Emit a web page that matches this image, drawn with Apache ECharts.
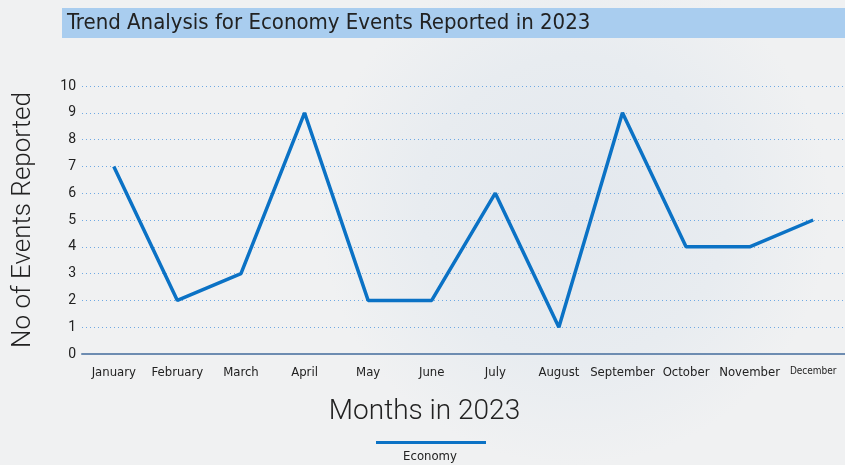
<!DOCTYPE html>
<html>
<head>
<meta charset="utf-8">
<script src="https://cdn.jsdelivr.net/npm/echarts@6/dist/echarts.min.js"></script>
<style>
html,body{margin:0;padding:0;background:#eff1f3;}
#chart{width:845px;height:465px;}
</style>
</head>
<body>
<div id="chart"></div>
<script>
var months = ['January','February','March','April','May','June','July','August','September','October','November','December'];
var economy = [7,2,3,9,2,2,6,1,9,4,4,5];
var yTicks = [0,1,2,3,4,5,6,7,8,9,10];
var seriesName = 'Economy';

var chart = echarts.init(document.getElementById('chart'));
var narrow = '"Liberation Sans Narrow","DejaVu Sans Condensed",Roboto,sans-serif';
chart.setOption({
  backgroundColor: {
    type: 'radial', x: 0.68, y: 0.45, r: 0.55,
    colorStops: [
      {offset: 0, color: '#e3e8ee'},
      {offset: 0.6, color: '#e8ecf0'},
      {offset: 1, color: '#f0f1f2'}
    ]
  },
  animation: false,
  title: {
    text: 'Trend Analysis for Economy Events Reported in 2023',
    left: 62, top: 8,
    backgroundColor: '#a9cdef',
    padding: [3, 5, 3, 5],
    textStyle: {fontFamily: narrow, fontSize: 22, fontWeight: 'normal', color: '#222', width: 773, lineHeight: 24}
  },
  grid: {left: 82, right: 0, top: 86, bottom: 111, containLabel: false, outerBoundsMode: 'none'},
  xAxis: {
    type: 'category',
    data: months,
    boundaryGap: true,
    name: 'Months in 2023',
    nameLocation: 'middle',
    nameGap: 44,
    nameTextStyle: {fontFamily: 'Roboto', fontWeight: 300, fontSize: 28, color: '#222', padding: [0, 78, 0, 0]},
    axisLine: {lineStyle: {color: '#6d8cb1', width: 2}},
    axisTick: {show: false},
    axisLabel: {
      interval: 0, margin: 12,
      fontFamily: narrow, fontSize: 13, color: '#222',
      formatter: function (v) { return v === 'December' ? '{s|' + v + '}' : v; },
      rich: {s: {fontFamily: narrow, fontSize: 10, color: '#222'}}
    }
  },
  yAxis: {
    type: 'value', min: 0, max: 10, interval: 1,
    name: 'No of Events Reported',
    nameLocation: 'middle',
    nameGap: 46,
    nameTextStyle: {fontFamily: 'Roboto', fontWeight: 300, fontSize: 26, color: '#222'},
    axisLine: {show: false},
    axisTick: {show: false},
    axisLabel: {
      margin: 6, fontFamily: 'Roboto', fontSize: 14, color: '#222',
      formatter: function (v) { return yTicks.indexOf(v) >= 0 ? String(v) : ''; }
    },
    splitLine: {lineStyle: {color: '#6fa9e3', type: [1, 3], width: 1}}
  },
  legend: {
    bottom: 21, left: 376,
    icon: 'rect', itemWidth: 110, itemHeight: 3,
    formatter: function () { return ''; },
    itemGap: 0, padding: 0,
    data: [seriesName]
  },
  graphic: [{
    type: 'text', x: 430, y: 450,
    style: {text: seriesName, font: '13px ' + narrow, fill: '#222', textAlign: 'center'}
  }],
  series: [{
    name: seriesName,
    type: 'line',
    data: economy,
    symbol: 'none',
    lineStyle: {color: '#0b72c5', width: 3.5},
    itemStyle: {color: '#0b72c5'}
  }]
});
</script>
</body>
</html>
